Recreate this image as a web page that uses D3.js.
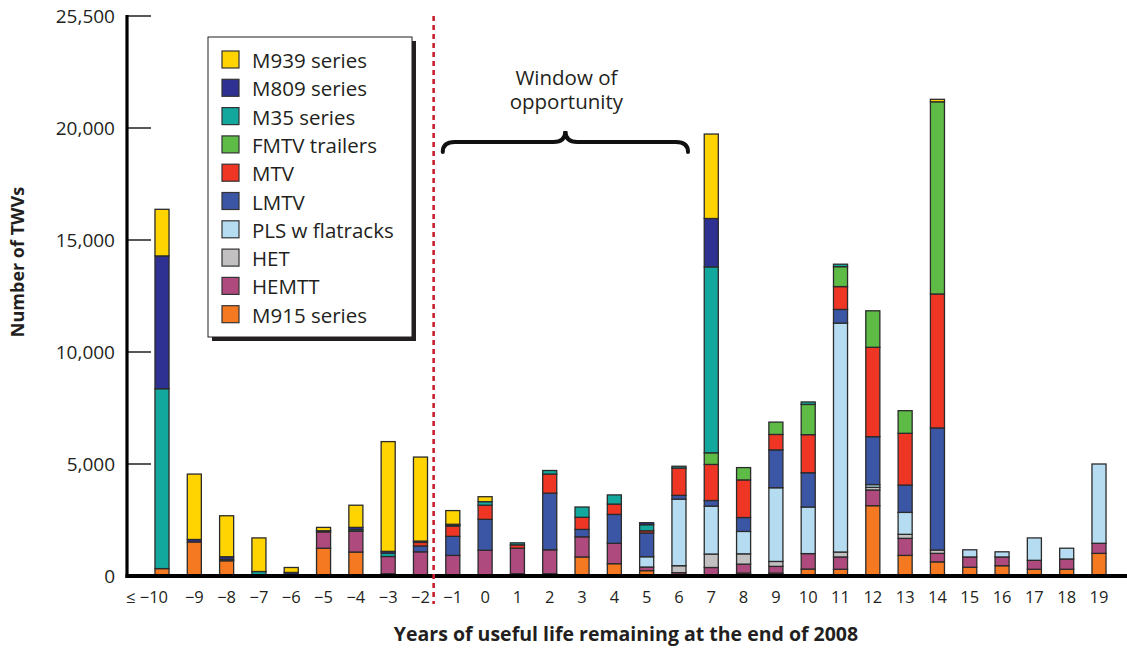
<!DOCTYPE html>
<html>
<head>
<meta charset="utf-8">
<script src="https://cdn.jsdelivr.net/npm/d3@7"></script>
<style>
  body { margin: 0; background: #fff; }
  svg { display: block; font-family: "Open Sans", "Noto Sans", sans-serif; }
</style>
</head>
<body>
<svg id="chart" width="1127" height="650"></svg>
<script>
// ---------------- data ----------------
const categories = ["≤ −10","−9","−8","−7","−6","−5","−4","−3","−2","−1",
  "0","1","2","3","4","5","6","7","8","9",
  "10","11","12","13","14","15","16","17","18","19"];

// stacked bottom -> top
const seriesNames = ["M915 series","HEMTT","HET","PLS w flatracks","LMTV","MTV","FMTV trailers","M35 series","M809 series","M939 series"];
const seriesColors = ["#F47920","#AE4A7E","#C3C0C1","#B5DCF0","#3C56A6","#EF3524","#5DBB46","#13A89E","#2E3192","#FFD400"];

const M915  = [330,1520,680,0,0,1240,1070,100,0,0, 0,100,100,850,550,240,0,0,130,130, 310,300,3140,920,630,390,460,300,300,1010];
const HEMTT = [0,0,0,0,80,730,930,770,1080,920, 1150,1140,1070,900,910,160,150,380,400,300, 690,550,700,760,380,460,390,400,460,450];
const HET   = [0,0,0,0,0,0,0,0,0,0, 0,0,0,0,0,0,310,600,460,220, 0,220,120,180,150,0,0,0,0,0];
const PLS   = [0,0,0,0,0,0,0,0,0,0, 0,0,0,0,0,460,2970,2140,1000,3290, 2080,10220,120,980,0,320,230,1000,480,3540];
const LMTV  = [0,0,0,0,0,0,0,0,260,850, 1380,0,2530,330,1290,1060,170,250,620,1690, 1530,610,2140,1220,5450,0,0,0,0,0];
const MTV   = [0,0,0,0,0,0,0,0,160,460, 630,150,850,540,460,100,1220,1610,1680,690, 1700,1020,3990,2310,5980,0,0,0,0,0];
const FMTV  = [0,0,0,0,0,0,0,0,0,0, 0,0,0,0,0,0,0,520,550,550, 1350,890,1630,1010,8580,0,0,0,0,0];
const M35   = [8030,0,60,200,0,50,70,150,0,40, 160,90,160,460,410,270,80,8300,0,0, 110,110,0,0,0,0,0,0,0,0];
const M809  = [5930,110,120,0,80,0,100,80,60,40, 0,0,0,0,0,90,0,2160,0,0, 0,0,0,0,0,0,0,0,0,0];
const M939  = [2080,2920,1830,1500,220,150,990,4900,3750,610, 220,0,0,0,0,0,0,3770,0,0, 0,0,0,0,110,0,0,0,0,0];

const seriesValues = [M915, HEMTT, HET, PLS, LMTV, MTV, FMTV, M35, M809, M939];

const yTickValues = [0, 5000, 10000, 15000, 20000, 25000];
const yTickLabels = ["0","5,000","10,000","15,000","20,000","25,500"];

const yTitle = "Number of TWVs";
const xTitle = "Years of useful life remaining at the end of 2008";
const annotationLines = ["Window of", "opportunity"];

// ---------------- build ----------------
const svg = d3.select("#chart");
const textColor = "#231f20";

const table = categories.map((c, i) => {
  const row = { cat: c };
  seriesNames.forEach((s, k) => row[s] = seriesValues[k][i]);
  return row;
});

const x = d3.scaleBand().domain(categories).range([145.85, 1115.15])
  .paddingInner(0.565).paddingOuter(0.2825);
const y = d3.scaleLinear().domain([0, 25000]).range([576, 16]);

const stack = d3.stack().keys(seriesNames);
const stacked = stack(table);

// bars
const gBars = svg.append("g");
stacked.forEach((layer, k) => {
  gBars.selectAll(null)
    .data(layer.filter(d => d[1] - d[0] > 0))
    .enter().append("rect")
    .attr("x", d => x(d.data.cat))
    .attr("width", x.bandwidth())
    .attr("y", d => y(d[1]))
    .attr("height", d => y(d[0]) - y(d[1]))
    .attr("fill", seriesColors[k])
    .attr("stroke", "#2b2b2b")
    .attr("stroke-width", 1.3);
});

// y axis
const yAxis = d3.axisLeft(y).tickValues(yTickValues)
  .tickFormat((d, i) => yTickLabels[i]).tickSize(0).tickPadding(12);
const gy = svg.append("g").attr("transform", "translate(127,0)").call(yAxis);
gy.select(".domain").remove();
gy.selectAll("text").attr("font-size", 19).attr("fill", textColor)
  .attr("font-family", "'Open Sans', sans-serif");
// inward ticks
svg.append("g").selectAll("line").data(yTickValues.filter(v => v > 0)).enter()
  .append("line")
  .attr("x1", 127).attr("x2", 151)
  .attr("y1", d => y(d)).attr("y2", d => y(d))
  .attr("stroke", "#231f20").attr("stroke-width", 1.5);

// x axis labels
const xAxis = d3.axisBottom(x).tickSize(0).tickPadding(15);
const gx = svg.append("g").attr("transform", "translate(0,576)").call(xAxis);
gx.select(".domain").remove();
gx.selectAll("text").attr("font-size", 16.5).attr("fill", textColor)
  .attr("font-family", "'Open Sans', sans-serif");
gx.selectAll(".tick").filter(d => d === categories[0]).select("text")
  .attr("text-anchor", "end").attr("x", 6);

// axis lines
svg.append("line").attr("x1", 127).attr("x2", 127).attr("y1", y(25000) - 1).attr("y2", 578)
  .attr("stroke", "#000").attr("stroke-width", 3.2);
svg.append("line").attr("x1", 125.5).attr("x2", 1127).attr("y1", 576).attr("y2", 576)
  .attr("stroke", "#000").attr("stroke-width", 4);

// dashed divider between -2 and -1
const divX = (x(categories[8]) + x.bandwidth() + x(categories[9])) / 2 - 3;
svg.append("line").attr("x1", divX).attr("x2", divX).attr("y1", 16).attr("y2", 604)
  .attr("stroke", "#C8202F").attr("stroke-width", 2.6).attr("stroke-dasharray", "5,4");

// titles
svg.append("text").attr("transform", "translate(24,262) rotate(-90)")
  .attr("text-anchor", "middle").attr("font-weight", "bold").attr("font-size", 18)
  .attr("fill", textColor).text(yTitle);
svg.append("text").attr("x", 626).attr("y", 641)
  .attr("text-anchor", "middle").attr("font-weight", "bold").attr("font-size", 19.5)
  .attr("fill", textColor).text(xTitle);

// annotation: window of opportunity
const bLeft = x(categories[9]) - 3;
const bRight = x(categories[16]) + x.bandwidth() + 2;
const bMid = (bLeft + bRight) / 2;
annotationLines.forEach((t, i) => {
  svg.append("text").attr("text-anchor", "middle").attr("font-size", 20.5).attr("fill", textColor)
    .attr("x", bMid + 1).attr("y", 85 + i * 24).text(t);
});
const bp = d3.path();
bp.moveTo(bLeft, 152);
bp.quadraticCurveTo(bLeft, 142, bLeft + 12, 142);
bp.lineTo(bMid - 12, 142);
bp.quadraticCurveTo(bMid, 142, bMid, 131);
bp.quadraticCurveTo(bMid, 142, bMid + 12, 142);
bp.lineTo(bRight - 12, 142);
bp.quadraticCurveTo(bRight, 142, bRight, 152);
svg.append("path").attr("d", bp.toString()).attr("fill", "none")
  .attr("stroke", "#111").attr("stroke-width", 4).attr("stroke-linecap", "round");

// legend
const lg = svg.append("g");
lg.append("rect").attr("x", 212).attr("y", 41).attr("width", 204).attr("height", 300).attr("fill", "#231f20");
lg.append("rect").attr("x", 208).attr("y", 37).attr("width", 204).attr("height", 300)
  .attr("fill", "#fff").attr("stroke", "#231f20").attr("stroke-width", 1);
const legendOrder = d3.range(seriesNames.length).reverse();
const rows = lg.selectAll("g.row").data(legendOrder).enter().append("g")
  .attr("transform", (d, i) => `translate(222,${51 + i * 28.3})`);
rows.append("rect").attr("width", 17).attr("height", 17)
  .attr("fill", d => seriesColors[d]).attr("stroke", "#333").attr("stroke-width", 1.2);
rows.append("text").attr("x", 30).attr("y", 17).attr("font-size", 20.5).attr("fill", textColor)
  .text(d => seriesNames[d]);
</script>
</body>
</html>
